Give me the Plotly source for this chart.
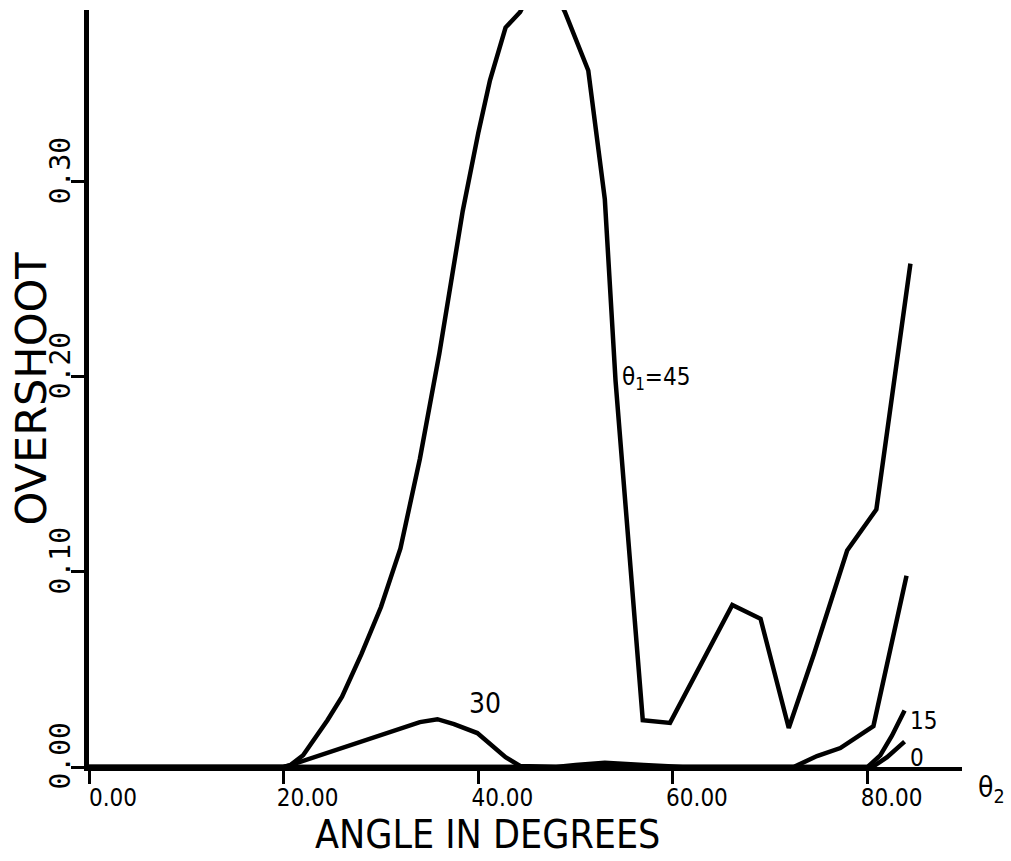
import plotly.graph_objects as go

# theta1 = 45
x45 = [0, 20, 20.7, 22.0, 24.5, 26.0, 28.0, 30.0, 32.0, 34.0, 36.0, 38.4, 40.0, 41.2, 42.8, 44.3, 46.6, 48.9, 51.3, 53.0, 54.1, 55.6, 56.9, 59.7, 66.1, 69.0, 71.9, 74.5, 77.9, 80.9, 84.4]
y45 = [0, 0, 0.001, 0.006, 0.024, 0.036, 0.058, 0.082, 0.112, 0.158, 0.212, 0.285, 0.325, 0.352, 0.379, 0.387, 0.41, 0.387, 0.357, 0.291, 0.198, 0.106, 0.024, 0.0226, 0.083, 0.076, 0.020, 0.058, 0.111, 0.132, 0.258]
# theta1 = 30
x30 = [0, 20, 20.7, 34.0, 35.8, 37.5, 39.9, 42.8, 44.3, 48.0, 50.0, 53.0, 57.0, 61.0, 72.4, 74.8, 77.2, 80.6, 84.0]
y30 = [0, 0, 0.001, 0.023, 0.0245, 0.022, 0.0174, 0.005, 0.0005, 0, 0.001, 0.0022, 0.001, 0, 0, 0.0056, 0.0097, 0.021, 0.098]
# theta1 = 15
x15 = [0, 80.0, 81.3, 82.5, 83.8]
y15 = [0, 0, 0.006, 0.016, 0.029]
# theta1 = 0
x0 = [0, 80.5, 82.0, 83.8]
y0 = [0, 0, 0.005, 0.013]

xticks = [0, 20, 40, 60, 80]
xticktext = ["0.00", "20.00", "40.00", "60.00", "80.00"]
yticks = [0, 0.1, 0.2, 0.3]
yticktext = ["0.00", "0.10", "0.20", "0.30"]

fig = go.Figure()
line = dict(color="black", width=4.5)
for xs, ys in [(x45, y45), (x30, y30), (x15, y15), (x0, y0)]:
    fig.add_trace(go.Scatter(x=xs, y=ys, mode="lines", line=line, showlegend=False, cliponaxis=True))

narrow = "Liberation Sans Narrow, DejaVu Sans Condensed, Liberation Sans"
fig.update_layout(
    width=1011, height=861,
    margin=dict(l=89, r=49, t=10, b=94),
    paper_bgcolor="white", plot_bgcolor="white",
    xaxis=dict(range=[0, 89.7], tickvals=xticks, ticktext=xticktext, showgrid=False, zeroline=False,
               showline=True, linecolor="black", linewidth=4, ticks="outside", ticklen=13, tickwidth=2.5,
               tickcolor="black", tickfont=dict(family=narrow, size=24, color="black"),
               ticklabelshift=24, ticklabelstandoff=-7),
    yaxis=dict(range=[0, 0.388], tickvals=yticks, ticktext=yticktext, showgrid=False, zeroline=False,
               showline=True, linecolor="black", linewidth=5, ticks="outside", ticklen=13, tickwidth=2.5,
               tickcolor="black", tickfont=dict(family="DejaVu Sans Mono", size=28, color="black"),
               tickangle=-90, ticklabelshift=-7, ticklabelstandoff=-10),
)

fig.add_annotation(text="ANGLE IN DEGREES", xref="paper", yref="paper", x=0.456, y=0, yshift=-67,
                   xanchor="center", yanchor="middle", showarrow=False,
                   font=dict(size=39, family=narrow, color="black"))
fig.add_annotation(text="OVERSHOOT", xref="paper", yref="paper", x=0, xshift=-59, y=0.5,
                   xanchor="center", yanchor="middle", textangle=-90, showarrow=False,
                   font=dict(size=43, family="DejaVu Sans", color="black"))
fig.add_annotation(text="θ<sub>1</sub>=45", x=54.6, y=0.199, xanchor="left", yanchor="middle", showarrow=False,
                   font=dict(size=24, family=narrow, color="black"))
fig.add_annotation(text="30", x=38.8, y=0.023, xanchor="left", yanchor="bottom", showarrow=False,
                   font=dict(size=28, family=narrow, color="black"))
fig.add_annotation(text="15", x=84.2, y=0.0236, xanchor="left", yanchor="middle", showarrow=False,
                   font=dict(size=24, family=narrow, color="black"))
fig.add_annotation(text="0", x=84.2, y=0.0046, xanchor="left", yanchor="middle", showarrow=False,
                   font=dict(size=24, family=narrow, color="black"))
fig.add_annotation(text="θ<sub>2</sub>", xref="paper", x=1, xshift=14, y=0, yshift=-2, xanchor="left",
                   yanchor="top", showarrow=False, font=dict(size=28, family=narrow, color="black"))

fig.write_html("out.html")
